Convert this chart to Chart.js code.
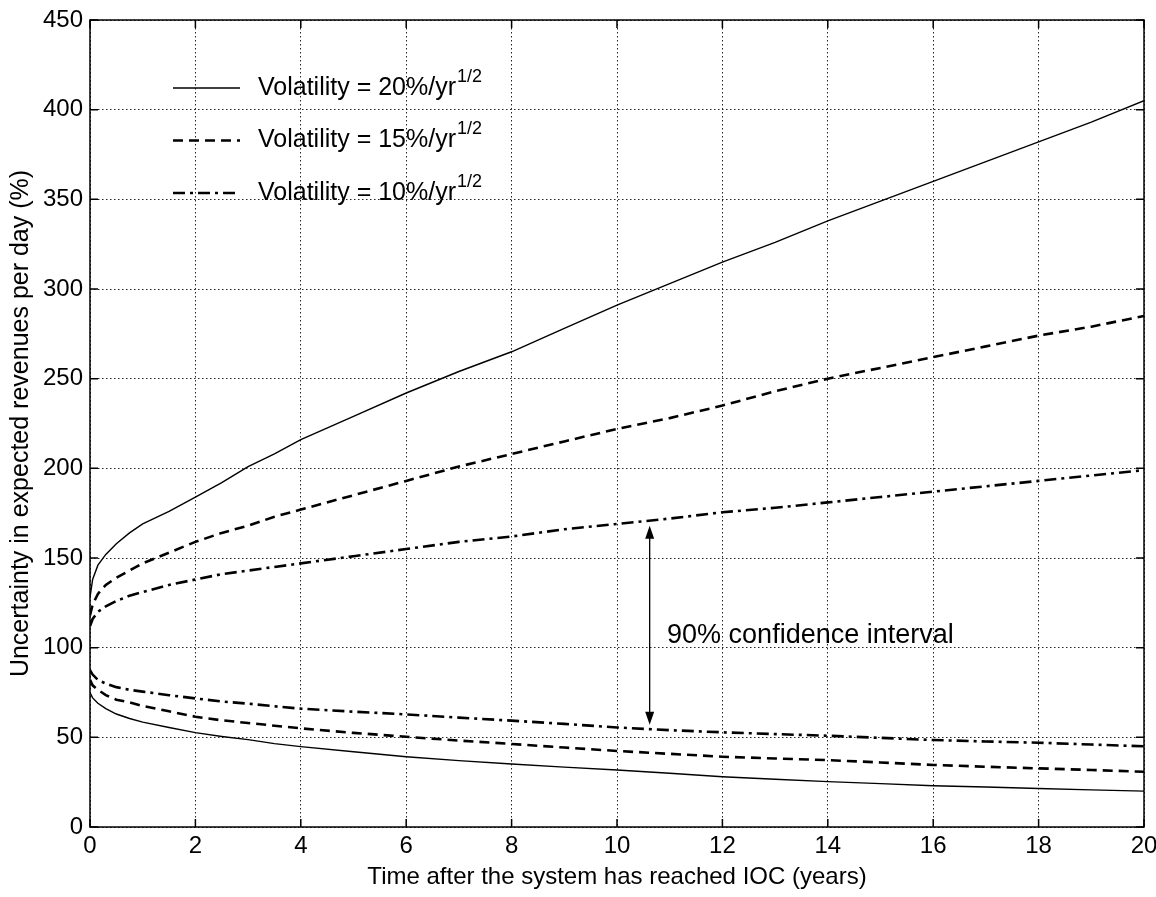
<!DOCTYPE html>
<html>
<head>
<meta charset="utf-8">
<title>Uncertainty in expected revenues</title>
<script src="https://cdn.jsdelivr.net/npm/chart.js@4.4.1/dist/chart.umd.min.js"></script>
<style>
  html, body { margin: 0; padding: 0; background: #fff; }
  canvas { display: block; }
</style>
</head>
<body>
<canvas id="uncertaintyChart" width="1156" height="897"></canvas>
<script>
/* 90% confidence bands of expected revenues per day, three volatilities */

var years = [0, 0.05, 0.15, 0.3, 0.5, 0.75, 1, 1.5, 2, 2.5, 3, 3.5, 4, 5, 6, 7, 8, 9, 10, 11, 12, 13, 14, 15, 16, 17, 18, 19, 20];

var upper20 = [128, 138, 146, 152, 158, 164, 169, 176, 184, 192, 201, 208, 216, 229, 242, 254, 265, 278, 291, 303, 315, 326, 338, 349, 360, 371, 382, 393, 405];
var lower20 = [75, 72, 69, 66, 63, 60.5, 58.5, 55.5, 52.6, 50.5, 48.7, 46.5, 44.8, 42, 39.2, 37, 35.1, 33.4, 31.8, 30, 28, 26.6, 25.3, 24.2, 23, 22.3, 21.5, 20.7, 20];

var upper15 = [118, 124, 130, 135, 139, 143, 147, 153, 159, 164, 168, 173, 177, 185, 193, 201, 208, 215, 222, 228, 235, 243, 250, 256, 262, 268, 274, 279, 285];
var lower15 = [82, 79, 76.5, 73.5, 71, 69.5, 67.5, 64.5, 61.5, 59.5, 58, 56.5, 55, 52.5, 50.3, 48.2, 46.3, 44.3, 42.4, 40.8, 39.2, 38.2, 37.3, 36, 34.6, 33.6, 32.7, 31.8, 30.8];

var upper10 = [112, 116, 120, 123, 126, 129, 131, 135, 138, 141, 143, 145, 147, 151, 155, 159, 162, 166, 169, 172, 175.5, 178, 181, 184, 187, 190, 193, 196, 199];
var lower10 = [87.5, 85, 82, 80, 78, 76.5, 75.5, 73.5, 71.7, 70, 68.8, 67.3, 66, 64.3, 62.8, 61, 59.3, 57.5, 55.5, 54, 52.8, 51.8, 50.9, 49.7, 48.5, 47.7, 47, 46, 45];

var legendLabels = ['Volatility = 20%/yr', 'Volatility = 15%/yr', 'Volatility = 10%/yr'];
var legendSup = '1/2';

var xTicksStep = 2;
var yTicksStep = 50;

// arrow marking the 90% band (data units)
var arrowYear = 10.62;
var arrowTop = 168;
var arrowBottom = 57;
var intervalLabel = '90% confidence interval';
var intervalLabelYear = 10.95;
var intervalLabelValue = 107;

var FONT = '"Liberation Sans", Arial, Helvetica, sans-serif';
var styles = [
  { width: 1.4, dash: [] },
  { width: 2.6, dash: [10, 6] },
  { width: 2.6, dash: [12, 5, 3, 5] }
];

function pts(ys) {
  return years.map(function (x, i) { return { x: x, y: ys[i] }; });
}

function series(ys, s) {
  return {
    data: pts(ys),
    borderColor: '#000',
    borderWidth: s.width,
    borderDash: s.dash,
    pointRadius: 0,
    fill: false,
    tension: 0
  };
}

var framePlugin = {
  id: 'frame',
  afterDatasetsDraw: function (chart) {
    var ctx = chart.ctx;
    var a = chart.chartArea;
    var xs = chart.scales.x;
    var ys = chart.scales.y;
    var tl = 8;
    ctx.save();
    ctx.strokeStyle = '#000';
    ctx.lineWidth = 1.5;
    ctx.setLineDash([]);
    ctx.strokeRect(a.left, a.top, a.right - a.left, a.bottom - a.top);
    ctx.beginPath();
    xs.ticks.forEach(function (t) {
      var px = xs.getPixelForValue(t.value);
      ctx.moveTo(px, a.bottom); ctx.lineTo(px, a.bottom - tl);
      ctx.moveTo(px, a.top); ctx.lineTo(px, a.top + tl);
    });
    ys.ticks.forEach(function (t) {
      var py = ys.getPixelForValue(t.value);
      ctx.moveTo(a.left, py); ctx.lineTo(a.left + tl, py);
      ctx.moveTo(a.right, py); ctx.lineTo(a.right - tl, py);
    });
    ctx.stroke();
    ctx.restore();
  },
  afterDraw: function (chart) {
    var ctx = chart.ctx;
    var a = chart.chartArea;
    var xs = chart.scales.x;
    var ys = chart.scales.y;

    // legend, no box
    ctx.save();
    ctx.strokeStyle = '#000';
    ctx.fillStyle = '#000';
    ctx.textBaseline = 'middle';
    legendLabels.forEach(function (label, i) {
      var y = a.top + 68 + i * 52.5;
      ctx.lineWidth = styles[i].width;
      ctx.setLineDash(styles[i].dash);
      ctx.beginPath();
      ctx.moveTo(a.left + 83, y);
      ctx.lineTo(a.left + 150, y);
      ctx.stroke();
      ctx.setLineDash([]);
      ctx.font = '25px ' + FONT;
      ctx.fillText(label, a.left + 168, y);
      var w = ctx.measureText(label).width;
      ctx.font = '18px ' + FONT;
      ctx.fillText(legendSup, a.left + 169 + w, y - 11);
    });

    // double arrow
    var ax = xs.getPixelForValue(arrowYear);
    var y1 = ys.getPixelForValue(arrowTop);
    var y2 = ys.getPixelForValue(arrowBottom);
    ctx.lineWidth = 1.3;
    ctx.beginPath();
    ctx.moveTo(ax, y1 + 10);
    ctx.lineTo(ax, y2 - 10);
    ctx.stroke();
    ctx.beginPath();
    ctx.moveTo(ax, y1); ctx.lineTo(ax - 4.5, y1 + 13); ctx.lineTo(ax + 4.5, y1 + 13); ctx.closePath();
    ctx.moveTo(ax, y2); ctx.lineTo(ax - 4.5, y2 - 13); ctx.lineTo(ax + 4.5, y2 - 13); ctx.closePath();
    ctx.fill();

    ctx.font = '27px ' + FONT;
    ctx.textAlign = 'left';
    ctx.fillText(intervalLabel, xs.getPixelForValue(intervalLabelYear), ys.getPixelForValue(intervalLabelValue));
    ctx.restore();
  }
};

var gridOpts = {
  color: '#222',
  lineWidth: 1,
  drawTicks: false
};

new Chart(document.getElementById('uncertaintyChart'), {
  type: 'line',
  data: {
    datasets: [
      series(upper20, styles[0]),
      series(lower20, styles[0]),
      series(upper15, styles[1]),
      series(lower15, styles[1]),
      series(upper10, styles[2]),
      series(lower10, styles[2])
    ]
  },
  options: {
    responsive: false,
    animation: false,
    layout: { padding: { left: 0, right: 12, top: 20, bottom: 0 } },
    plugins: {
      legend: { display: false },
      tooltip: { enabled: false }
    },
    scales: {
      x: {
        type: 'linear',
        min: 0,
        max: 20,
        ticks: { stepSize: xTicksStep, color: '#000', padding: 5, maxRotation: 0, font: { family: FONT, size: 24 } },
        grid: gridOpts,
        border: { display: false, dash: [1.5, 2.5] },
        title: {
          display: true,
          text: 'Time after the system has reached IOC (years)',
          color: '#000',
          font: { family: FONT, size: 24, lineHeight: 1 },
          padding: { top: 0, bottom: 8 }
        },
        afterFit: function (s) {
          s.height = 70;
          s.paddingLeft = 0;
          s.paddingRight = 0;
        }
      },
      y: {
        min: 0,
        max: 450,
        ticks: { stepSize: yTicksStep, color: '#000', padding: 7, font: { family: FONT, size: 24 } },
        grid: gridOpts,
        border: { display: false, dash: [1.5, 2.5] },
        title: {
          display: true,
          text: 'Uncertainty in expected revenues per day (%)',
          color: '#000',
          font: { family: FONT, size: 25, lineHeight: 1 },
          padding: { top: 9, bottom: 0 }
        },
        afterFit: function (s) {
          s.width = 90;
          s.paddingTop = 0;
          s.paddingBottom = 0;
        }
      }
    }
  },
  plugins: [framePlugin]
});
</script>
</body>
</html>
